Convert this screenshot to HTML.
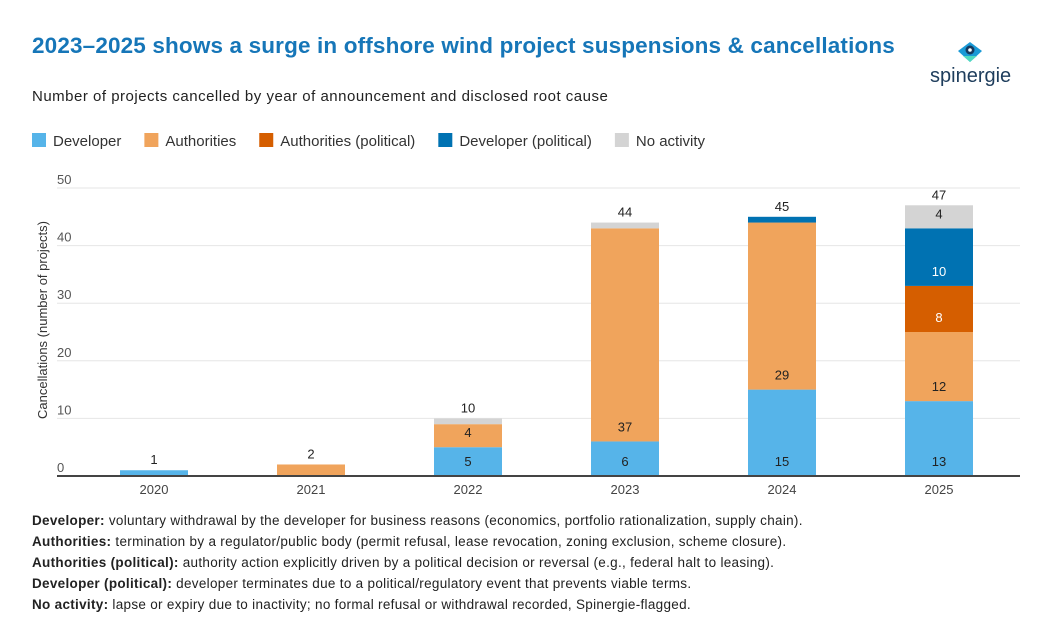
<!DOCTYPE html>
<html><head><meta charset="utf-8"><style>
body{margin:0;background:#fff;width:1060px;height:641px;overflow:hidden;font-family:"Liberation Sans",sans-serif;}
.t{position:absolute;white-space:nowrap}
</style></head><body>
<div class="t" style="left:32px;top:33px;font-size:22.5px;font-weight:bold;color:#1676b8;letter-spacing:0.15px">2023–2025 shows a surge in offshore wind project suspensions &amp; cancellations</div>
<div class="t" style="left:32px;top:88px;font-size:15px;color:#222;letter-spacing:0.5px">Number of projects cancelled by year of announcement and disclosed root cause</div>
<div style="position:absolute;left:928px;top:42px;width:95px;height:50px">
<svg width="95" height="50"><path d="M30 9 L42 0 L54 9 L42 20 Z" fill="#1a9ad6"/><path d="M35 14 L49 14 L42 20 Z" fill="#4fd9c0"/><circle cx="42" cy="8" r="4.5" fill="#163a5f"/><circle cx="42" cy="8" r="1.8" fill="#fff"/><text x="2" y="40" font-size="20" fill="#1e3d5c" font-family="Liberation Sans, sans-serif">spinergie</text></svg></div>
<svg id="c" width="1060" height="641" style="position:absolute;left:0;top:0" font-family="Liberation Sans, sans-serif"></svg>
<div class="t" style="left:32px;top:510px;font-size:13.5px;line-height:21px;color:#222;letter-spacing:0.3px">
<b>Developer:</b> voluntary withdrawal by the developer for business reasons (economics, portfolio rationalization, supply chain).<br>
<b>Authorities:</b> termination by a regulator/public body (permit refusal, lease revocation, zoning exclusion, scheme closure).<br>
<b>Authorities (political):</b> authority action explicitly driven by a political decision or reversal (e.g., federal halt to leasing).<br>
<b>Developer (political):</b> developer terminates due to a political/regulatory event that prevents viable terms.<br>
<b>No activity:</b> lapse or expiry due to inactivity; no formal refusal or withdrawal recorded, Spinergie-flagged.</div>
<script>
const years=["2020","2021","2022","2023","2024","2025"];
const seriesNames=["Developer","Authorities","Authorities (political)","Developer (political)","No activity"];
const colors=["#56b4e9","#f0a45c","#d55e00","#0072b2","#d4d4d4"];
const developer=[1,0,5,6,15,13];
const authorities=[0,2,4,37,29,12];
const authPolitical=[0,0,0,0,0,8];
const devPolitical=[0,0,0,0,1,10];
const noActivity=[0,0,1,1,0,4];
const yTicks=[0,10,20,30,40,50];
const series=[developer,authorities,authPolitical,devPolitical,noActivity];
const svg=document.getElementById('c');const NS="http://www.w3.org/2000/svg";
function el(t,a,txt){const e=document.createElementNS(NS,t);for(const k in a)e.setAttribute(k,a[k]);if(txt!==undefined)e.textContent=txt;svg.appendChild(e);return e;}
const x0=57,x1=1020,y0=476,yTop=188,yMax=50;
const Y=v=>y0-(v/yMax)*(y0-yTop);
const X=i=>154+157*i;const bw=68;
let lx=32;
seriesNames.forEach((n,i)=>{const r=el('rect',{x:lx,y:133,width:14,height:14,fill:colors[i]});

const t=el('text',{x:lx+21,y:146,'font-size':15,fill:'#333'},n);

lx+=21+t.getComputedTextLength()+23;});
yTicks.forEach(v=>{if(v>0){const g=el('line',{x1:x0,x2:x1,y1:Y(v),y2:Y(v),stroke:'#e6e6e6'});}
const t=el('text',{x:x0,y:Y(v)-4,'font-size':13,fill:'#555'},String(v));});
const yt=el('text',{x:0,y:0,'font-size':13,fill:'#333','text-anchor':'middle',transform:`translate(47,320) rotate(-90)`},"Cancellations (number of projects)");

years.forEach((yr,i)=>{let acc=0;const cx=X(i);
series.forEach((s,k)=>{const v=s[i];if(!v)return;
const r=el('rect',{x:cx-bw/2,y:Y(acc+v),width:bw,height:Y(acc)-Y(acc+v),fill:colors[k]});

if(v>1&&i>=2){const lt=el('text',{x:cx,y:Y(acc)-10,'font-size':13,'text-anchor':'middle',fill:(k==2||k==3)?'#fff':'#222'},String(v));
}
acc+=v;});
const tl=el('text',{x:cx,y:Y(acc)-6,'font-size':13,'text-anchor':'middle',fill:'#222'},String(acc));

const xl=el('text',{x:cx,y:y0+18,'font-size':13,'text-anchor':'middle',fill:'#444'},yr);
});
const ax=el('line',{x1:x0,x2:x1,y1:y0,y2:y0,stroke:'#444','stroke-width':2});
</script>
</body></html>
